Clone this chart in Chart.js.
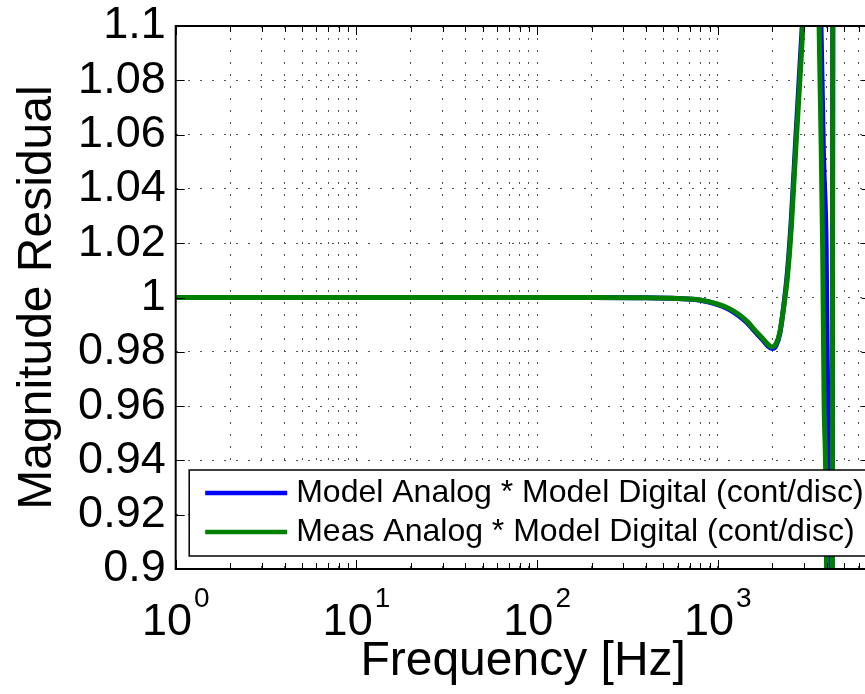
<!DOCTYPE html>
<html>
<head>
<meta charset="utf-8">
<script src="https://cdn.jsdelivr.net/npm/chart.js@4.4.1/dist/chart.umd.min.js"></script>
<style>
  html, body { margin: 0; padding: 0; background: #fff; overflow: hidden; }
</style>
</head>
<body>
<canvas id="residualChart" width="900" height="694"></canvas>
<script>
const FONT = "'Liberation Sans', Arial, Helvetica, sans-serif";

const xMin = 1;
const xMax = 7000;
const xDecades = [1, 10, 100, 1000];
const yTicks = [0.9, 0.92, 0.94, 0.96, 0.98, 1, 1.02, 1.04, 1.06, 1.08, 1.1];

const seriesLabels = [
  "Model Analog * Model Digital (cont/disc)",
  "Meas Analog * Model Digital (cont/disc)",
];

// model analog (blue)
const freqModel = [1, 10, 100, 200, 400, 600, 800, 1000, 1150, 1300, 1450, 1600, 1780, 1900, 1990,
  2100, 2200, 2320, 2430, 2550, 2700, 2860, 2950, 3050, 3250, 3450, 3650, 3720, 3850, 3975,
  4048, 4150, 4220, 4280, 4330, 4450, 5000, 6000, 7000];
const magModel = [1.0, 1.0, 1.0, 1.0, 0.9999, 0.9996, 0.9990, 0.9974, 0.9957, 0.9934, 0.9907, 0.9875, 0.9842, 0.9820, 0.9812,
  0.9824, 0.9866, 0.9975, 1.0100, 1.0290, 1.0590, 1.0880, 1.1050, 1.1400, 1.2600, 1.2400, 1.1500, 1.1000, 1.0500, 1.0180,
  0.9620, 0.9000, 0.5000, 0.8000, 1.1500, 1.6000, 1.5000, 1.3500, 1.3000];

// measured analog (green)
const freqMeas = [1, 10, 100, 200, 400, 600, 800, 1000, 1150, 1300, 1450, 1600, 1780, 1900, 1990,
  2100, 2200, 2320, 2430, 2550, 2700, 2860, 2950, 3050, 3250, 3450, 3632, 3720, 3800, 3870,
  3990, 4100, 4200, 4280, 4330, 4450, 5000, 6000, 7000];
const magMeas = [1.0, 1.0, 1.0, 1.0, 0.9999, 0.9996, 0.9991, 0.9976, 0.9960, 0.9938, 0.9912, 0.9880, 0.9847, 0.9826, 0.9818,
  0.9830, 0.9870, 0.9970, 1.0080, 1.0260, 1.0550, 1.0830, 1.1000, 1.1300, 1.2500, 1.2200, 1.1000, 1.0600, 1.0180, 0.9620,
  0.9000, 0.6000, 0.5500, 0.8000, 1.1500, 1.6000, 1.5000, 1.3500, 1.3000];

const toPoints = (xs, ys) => xs.map((x, i) => ({ x: x, y: ys[i] }));

// matlab-ish axes: inward ticks, box, 10^n labels, legend
const matlabAxes = {
  id: "matlabAxes",
  afterDraw(chart) {
    const { ctx, chartArea: a } = chart;
    const xs = chart.scales.x;
    const ys = chart.scales.y;
    ctx.save();

    ctx.strokeStyle = "#000";
    ctx.lineWidth = 1;
    ctx.beginPath();
    xs.ticks.forEach((t) => {
      const px = Math.round(xs.getPixelForValue(t.value)) + 0.5;
      const len = xDecades.includes(t.value) ? 9 : 6;
      ctx.moveTo(px, a.bottom);
      ctx.lineTo(px, a.bottom - len);
      ctx.moveTo(px, a.top);
      ctx.lineTo(px, a.top + len);
    });
    ys.ticks.forEach((t) => {
      const py = Math.round(ys.getPixelForValue(t.value)) + 0.5;
      ctx.moveTo(a.left, py);
      ctx.lineTo(a.left + 9, py);
      ctx.moveTo(a.right, py);
      ctx.lineTo(a.right - 9, py);
    });
    ctx.stroke();

    ctx.lineWidth = 2;
    ctx.strokeRect(a.left, a.top, a.right - a.left, a.bottom - a.top);

    // x tick labels as 10 with superscript exponent
    ctx.fillStyle = "#000";
    ctx.textAlign = "left";
    ctx.textBaseline = "alphabetic";
    xDecades.forEach((d) => {
      const px = xs.getPixelForValue(d);
      const exp = String(Math.round(Math.log10(d)));
      ctx.font = "45px " + FONT;
      const wBase = ctx.measureText("10").width;
      ctx.font = "28px " + FONT;
      const wExp = ctx.measureText(exp).width;
      const start = px - (wBase + 2 + wExp) / 2;
      ctx.font = "45px " + FONT;
      ctx.fillText("10", start, 635);
      ctx.font = "28px " + FONT;
      ctx.fillText(exp, start + wBase + 2, 607);
    });

    // legend
    const lx = a.left + 13.5, ly = a.bottom - 99, lw = 700, lh = 86;
    ctx.fillStyle = "#fff";
    ctx.fillRect(lx, ly, lw, lh);
    ctx.lineWidth = 1.5;
    ctx.strokeStyle = "#000";
    ctx.strokeRect(lx, ly, lw, lh);
    chart.data.datasets.forEach((ds, i) => {
      const cy = ly + 23 + i * 39;
      ctx.strokeStyle = ds.borderColor;
      ctx.lineWidth = 4.5;
      ctx.beginPath();
      ctx.moveTo(lx + 16, cy);
      ctx.lineTo(lx + 98, cy);
      ctx.stroke();
      ctx.fillStyle = "#000";
      ctx.font = "32px " + FONT;
      ctx.textBaseline = "middle";
      ctx.fillText(ds.label, lx + 107, cy);
    });

    ctx.restore();
  },
};

const ctx = document.getElementById("residualChart").getContext("2d");

new Chart(ctx, {
  type: "line",
  data: {
    datasets: [
      {
        label: seriesLabels[0],
        data: toPoints(freqModel, magModel),
        borderColor: "#0000ff",
        borderWidth: 5,
        pointRadius: 0,
        cubicInterpolationMode: "monotone",
        order: 2,
      },
      {
        label: seriesLabels[1],
        data: toPoints(freqMeas, magMeas),
        borderColor: "#008000",
        borderWidth: 5,
        pointRadius: 0,
        cubicInterpolationMode: "monotone",
        order: 1,
      },
    ],
  },
  options: {
    responsive: false,
    animation: false,
    layout: { padding: { top: 26, right: 29.4, bottom: 0, left: 0 } },
    plugins: {
      legend: { display: false },
      tooltip: { enabled: false },
    },
    scales: {
      x: {
        type: "logarithmic",
        min: xMin,
        max: xMax,
        afterBuildTicks: (scale) => {
          const ticks = [];
          xDecades.forEach((d) => {
            for (let m = 1; m <= 9; m++) {
              if (d * m <= xMax) ticks.push({ value: d * m });
            }
          });
          scale.ticks = ticks;
        },
        afterFit: (scale) => {
          scale.height = 125;
          scale.paddingLeft = 0;
          scale.paddingRight = 0;
        },
        ticks: { display: false },
        grid: { color: "#555", lineWidth: 1, drawTicks: false },
        border: { display: false, dash: [2, 10] },
        title: {
          display: true,
          text: "Frequency [Hz]",
          color: "#000",
          font: { family: FONT, size: 48 },
          padding: { top: 0, bottom: 3 },
        },
      },
      y: {
        min: 0.9,
        max: 1.1,
        afterBuildTicks: (scale) => {
          scale.ticks = yTicks.map((v) => ({ value: v }));
        },
        afterFit: (scale) => {
          scale.width = 175.7;
          scale.paddingTop = 0;
          scale.paddingBottom = 0;
        },
        ticks: {
          color: "#000",
          font: { family: FONT, size: 45, lineHeight: 1 },
          padding: 10,
          autoSkip: false,
          callback: (v) => String(+Number(v).toFixed(2)),
        },
        grid: { color: "#555", lineWidth: 1, drawTicks: false },
        border: { display: false, dash: [2, 10] },
        title: {
          display: true,
          text: "Magnitude Residual",
          color: "#000",
          font: { family: FONT, size: 48 },
          padding: { top: 9, bottom: 0 },
        },
      },
    },
  },
  plugins: [matlabAxes],
});
</script>
</body>
</html>
